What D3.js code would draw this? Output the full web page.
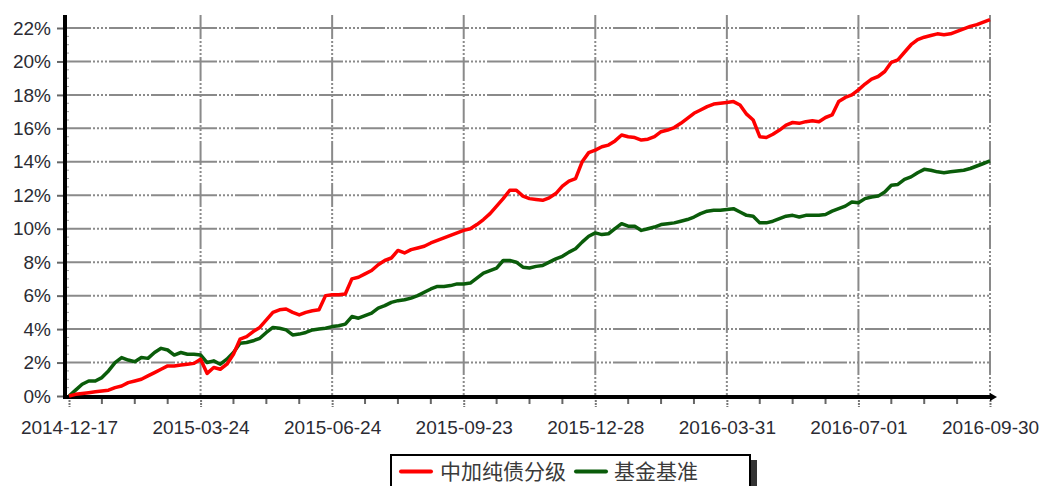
<!DOCTYPE html>
<html><head><meta charset="utf-8">
<script src="https://cdn.jsdelivr.net/npm/d3@7"></script>
<style>
html,body{margin:0;padding:0;background:#fff;}
svg{display:block;}
</style></head>
<body>
<svg id="chart" width="1041" height="486"></svg>
<script>
// ---- data ----
const dateLabels = ["2014-12-17","2015-03-24","2015-06-24","2015-09-23","2015-12-28","2016-03-31","2016-07-01","2016-09-30"];
const yTicks = [0,2,4,6,8,10,12,14,16,18,20,22];
const seriesNames = ["中加纯债分级","基金基准"];
const fundValues = [
0,0.1,0.15,0.2,0.25,0.3,0.35,0.5,0.6,0.8,
0.9,1.0,1.2,1.4,1.6,1.8,1.8,1.85,1.9,1.95,
2.2,1.35,1.7,1.6,1.9,2.5,3.4,3.55,3.85,4.1,
4.55,5.0,5.15,5.2,5.0,4.85,5.0,5.1,5.15,6.0,
6.05,6.05,6.1,7.0,7.1,7.3,7.5,7.85,8.1,8.25,
8.7,8.55,8.75,8.85,8.95,9.15,9.3,9.45,9.6,9.75,
9.9,10.0,10.25,10.55,10.9,11.35,11.8,12.3,12.3,11.95,
11.8,11.75,11.7,11.85,12.1,12.55,12.85,13.0,14.0,14.55,
14.7,14.9,15.0,15.25,15.6,15.5,15.45,15.3,15.35,15.5,
15.8,15.9,16.05,16.3,16.6,16.9,17.1,17.3,17.45,17.5,
17.55,17.6,17.4,16.85,16.5,15.5,15.45,15.65,15.9,16.2,
16.35,16.3,16.4,16.45,16.4,16.65,16.8,17.6,17.85,18.0,
18.3,18.65,18.95,19.1,19.4,19.95,20.1,20.55,21.0,21.3,
21.45,21.55,21.65,21.6,21.65,21.8,21.95,22.1,22.2,22.35,
22.5];
const benchValues = [
0,0.35,0.7,0.9,0.9,1.1,1.5,2.0,2.3,2.15,
2.05,2.3,2.25,2.6,2.85,2.75,2.45,2.6,2.5,2.5,
2.45,2.0,2.1,1.9,2.2,2.6,3.15,3.2,3.3,3.45,
3.8,4.1,4.05,3.95,3.65,3.7,3.8,3.95,4.0,4.05,
4.15,4.2,4.3,4.75,4.65,4.8,4.95,5.25,5.4,5.6,
5.7,5.75,5.85,6.0,6.2,6.4,6.55,6.55,6.6,6.7,
6.7,6.75,7.05,7.35,7.5,7.65,8.1,8.1,8.0,7.7,
7.65,7.75,7.8,8.0,8.2,8.35,8.6,8.8,9.2,9.55,
9.75,9.65,9.7,10.0,10.3,10.15,10.15,9.9,10.0,10.1,
10.25,10.3,10.35,10.45,10.55,10.7,10.9,11.05,11.1,11.1,
11.15,11.2,11.0,10.8,10.75,10.35,10.35,10.45,10.6,10.75,
10.8,10.7,10.8,10.8,10.8,10.85,11.05,11.2,11.35,11.6,
11.55,11.8,11.9,11.95,12.2,12.6,12.65,12.95,13.1,13.35,
13.55,13.5,13.4,13.35,13.4,13.45,13.5,13.6,13.75,13.9,
14.05];

// ---- layout ----
const svg = d3.select("#chart");
const n = fundValues.length - 1;
const stepPerLabel = n / (dateLabels.length - 1);
const x = d3.scaleLinear().domain([0, n]).range([69, 990]);
const y = d3.scaleLinear().domain([0, 22]).range([396, 28]);
const majorIdx = dateLabels.map((d,i)=>i*stepPerLabel);
const minorIdx = d3.range(0, n+0.001, stepPerLabel/4).filter(v => !majorIdx.some(m=>Math.abs(m-v)<1e-6));
const gridColor = "#8a8a8a";
const dash = "24,2,2,2,2,2,2,2,2,2";
const textColor = "#2b2b33";
const font = "'Liberation Sans', Arial, sans-serif";

// horizontal grid
svg.append("g").selectAll("line").data(yTicks.filter(v=>v>0)).join("line")
  .attr("x1", 67).attr("x2", 990)
  .attr("y1", d=>y(d)).attr("y2", d=>y(d))
  .attr("stroke", gridColor).attr("stroke-width", 2).attr("stroke-dasharray", dash);

// vertical grid
svg.append("g").selectAll("line").data(majorIdx.slice(1)).join("line")
  .attr("x1", d=>x(d)).attr("x2", d=>x(d))
  .attr("y1", 15).attr("y2", 397)
  .attr("stroke", gridColor).attr("stroke-width", 2).attr("stroke-dasharray", dash);

// x axis
const xAxis = d3.axisBottom(x).tickValues(majorIdx).tickFormat((d,i)=>dateLabels[i]).tickSize(10).tickSizeOuter(0).tickPadding(14);
const gx = svg.append("g").attr("transform","translate(0,397)").call(xAxis);
gx.select(".domain").remove();
gx.selectAll(".tick line").attr("stroke","#777").attr("stroke-width",2).attr("stroke-dasharray","2,1");
gx.selectAll(".tick text").attr("fill", textColor).style("font-family", font).style("font-size","19px");
svg.append("g").selectAll("line").data(minorIdx).join("line")
  .attr("x1", d=>x(d)).attr("x2", d=>x(d)).attr("y1", 397).attr("y2", 404)
  .attr("stroke","#666").attr("stroke-width",2);

// y axis
const yAxis = d3.axisLeft(y).tickValues(yTicks).tickFormat(d=>d+"%").tickSize(8).tickSizeOuter(0).tickPadding(6);
const gy = svg.append("g").attr("transform","translate(65,0)").call(yAxis);
gy.select(".domain").remove();
gy.selectAll(".tick line").attr("stroke","#666").attr("stroke-width",2);
gy.selectAll(".tick text").attr("fill", textColor).style("font-family", font).style("font-size","19px");
svg.append("g").selectAll("line").data(d3.range(0,22.01,0.5)).join("line")
  .attr("x1", 65).attr("x2", 69).attr("y1", d=>y(d)).attr("y2", d=>y(d))
  .attr("stroke","#999").attr("stroke-width",1);

// axis lines
svg.append("line").attr("x1",65).attr("x2",65).attr("y1",15).attr("y2",399)
  .attr("stroke","#000").attr("stroke-width",4);
svg.append("line").attr("x1",63).attr("x2",993).attr("y1",397).attr("y2",397)
  .attr("stroke","#000").attr("stroke-width",4);
svg.append("path").attr("d","M990,393 L997,397 L990,401 Z").attr("fill","#000");

// series lines
const line = vals => d3.line().x((d,i)=>x(i)).y(d=>y(d))(vals);
svg.append("path").attr("d", line(benchValues)).attr("fill","none")
  .attr("stroke","#0a5c0a").attr("stroke-width",3.5).attr("stroke-linejoin","round");
svg.append("path").attr("d", line(fundValues)).attr("fill","none")
  .attr("stroke","#ff0000").attr("stroke-width",3.5).attr("stroke-linejoin","round");

// legend
const lg = svg.append("g");
lg.append("rect").attr("x",751).attr("y",460).attr("width",6).attr("height",30).attr("fill","#333");
lg.append("rect").attr("x",391).attr("y",455).attr("width",359).attr("height",40)
  .attr("fill","#fff").attr("stroke","#000").attr("stroke-width",2);
const legendItems = [
  {name: seriesNames[0], color:"#ff0000", lx:401, tx:440},
  {name: seriesNames[1], color:"#0a5c0a", lx:576, tx:614}
];
legendItems.forEach(it=>{
  lg.append("line").attr("x1",it.lx).attr("x2",it.lx+30).attr("y1",471.5).attr("y2",471.5)
    .attr("stroke",it.color).attr("stroke-width",4).attr("stroke-linecap","round");
  lg.append("text").attr("x",it.tx).attr("y",479).text(it.name)
    .attr("fill","#3a3a3a").style("font-family","'Noto Sans CJK SC', sans-serif").style("font-size","21px");
});
</script>
</body></html>
